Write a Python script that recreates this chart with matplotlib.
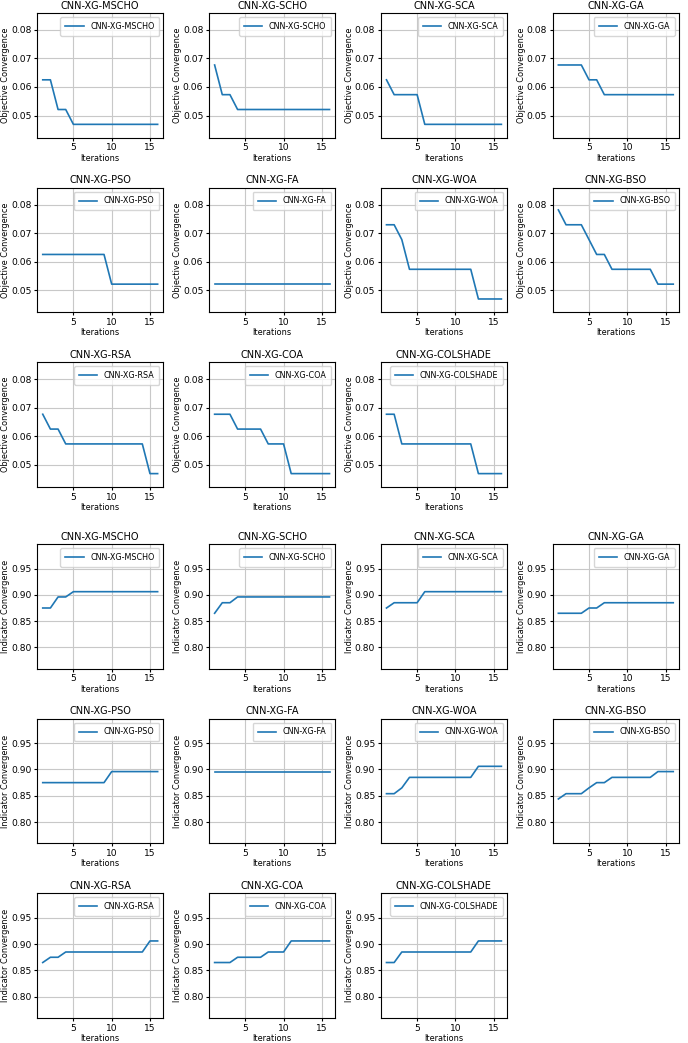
import matplotlib
matplotlib.use("Agg")
import matplotlib.pyplot as plt

# Iterations 1..16
iterations = list(range(1, 17))

methods = ["CNN-XG-MSCHO", "CNN-XG-SCHO", "CNN-XG-SCA", "CNN-XG-GA",
           "CNN-XG-PSO", "CNN-XG-FA", "CNN-XG-WOA", "CNN-XG-BSO",
           "CNN-XG-RSA", "CNN-XG-COA", "CNN-XG-COLSHADE"]

# Objective convergence per method
obj_mscho = [0.0625, 0.0625, 0.0521, 0.0521] + [0.0469] * 12
obj_scho = [0.0677, 0.0573, 0.0573] + [0.0521] * 13
obj_sca = [0.0625, 0.0573, 0.0573, 0.0573, 0.0573] + [0.0469] * 11
obj_ga = [0.0677] * 4 + [0.0625] * 2 + [0.0573] * 10
obj_pso = [0.0625] * 9 + [0.0521] * 7
obj_fa = [0.0521] * 16
obj_woa = [0.0729, 0.0729, 0.0677] + [0.0573] * 9 + [0.0469] * 4
obj_bso = [0.0781, 0.0729, 0.0729, 0.0729, 0.0677, 0.0625, 0.0625] + [0.0573] * 6 + [0.0521] * 3
obj_rsa = [0.0677, 0.0625, 0.0625] + [0.0573] * 11 + [0.0469] * 2
obj_coa = [0.0677] * 3 + [0.0625] * 4 + [0.0573] * 3 + [0.0469] * 6
obj_colshade = [0.0677] * 2 + [0.0573] * 10 + [0.0469] * 4

# Indicator convergence per method
ind_mscho = [0.875, 0.875, 0.896, 0.896] + [0.906] * 12
ind_scho = [0.865, 0.885, 0.885] + [0.896] * 13
ind_sca = [0.875, 0.885, 0.885, 0.885, 0.885] + [0.906] * 11
ind_ga = [0.865] * 4 + [0.875] * 2 + [0.885] * 10
ind_pso = [0.875] * 9 + [0.896] * 7
ind_fa = [0.896] * 16
ind_woa = [0.854, 0.854, 0.865] + [0.885] * 9 + [0.906] * 4
ind_bso = [0.844, 0.854, 0.854, 0.854, 0.865, 0.875, 0.875] + [0.885] * 6 + [0.896] * 3
ind_rsa = [0.865, 0.875, 0.875] + [0.885] * 11 + [0.906] * 2
ind_coa = [0.865] * 3 + [0.875] * 4 + [0.885] * 3 + [0.906] * 6
ind_colshade = [0.865] * 2 + [0.885] * 10 + [0.906] * 4

objective = [obj_mscho, obj_scho, obj_sca, obj_ga, obj_pso, obj_fa,
             obj_woa, obj_bso, obj_rsa, obj_coa, obj_colshade]
indicator = [ind_mscho, ind_scho, ind_sca, ind_ga, ind_pso, ind_fa,
             ind_woa, ind_bso, ind_rsa, ind_coa, ind_colshade]

W, H = 688, 1043
fig = plt.figure(figsize=(W / 100, H / 100), dpi=100)

def draw_block(series, ylabel, top_px, bottom_px):
    gs = fig.add_gridspec(3, 4, left=37 / W, right=679 / W,
                          top=1 - top_px / H, bottom=1 - bottom_px / H,
                          wspace=0.36, hspace=0.40)
    lo = min(min(s) for s in series) * 0.9
    hi = max(max(s) for s in series) * 1.1
    for i, (name, vals) in enumerate(zip(methods, series)):
        ax = fig.add_subplot(gs[i // 4, i % 4])
        ax.plot(iterations, vals, color="#1f77b4", lw=1.2, label=name)
        ax.set_ylim(lo, hi)
        ax.set_title(name, fontsize=7.0, pad=3)
        ax.set_xlabel("Iterations", fontsize=5.9, labelpad=1)
        ax.set_ylabel(ylabel, fontsize=5.9, labelpad=0.5)
        ax.tick_params(labelsize=6.6, length=2.5, pad=1.5)
        ax.grid(True, color="#c8c8c8", lw=0.8)
        ax.legend(loc="upper right", fontsize=5.8, handlelength=2.3,
                  borderpad=0.6, framealpha=0.8)
        if ylabel.startswith("Objective"):
            ax.set_yticks([0.05, 0.06, 0.07, 0.08])
        else:
            ax.set_yticks([0.80, 0.85, 0.90, 0.95])
            ax.set_yticklabels(["0.80", "0.85", "0.90", "0.95"])
        ax.set_xticks([5, 10, 15])

draw_block(objective, "Objective Convergence", 13, 487)
draw_block(indicator, "Indicator Convergence", 544, 1018)

fig.savefig("out.png", dpi=100)
